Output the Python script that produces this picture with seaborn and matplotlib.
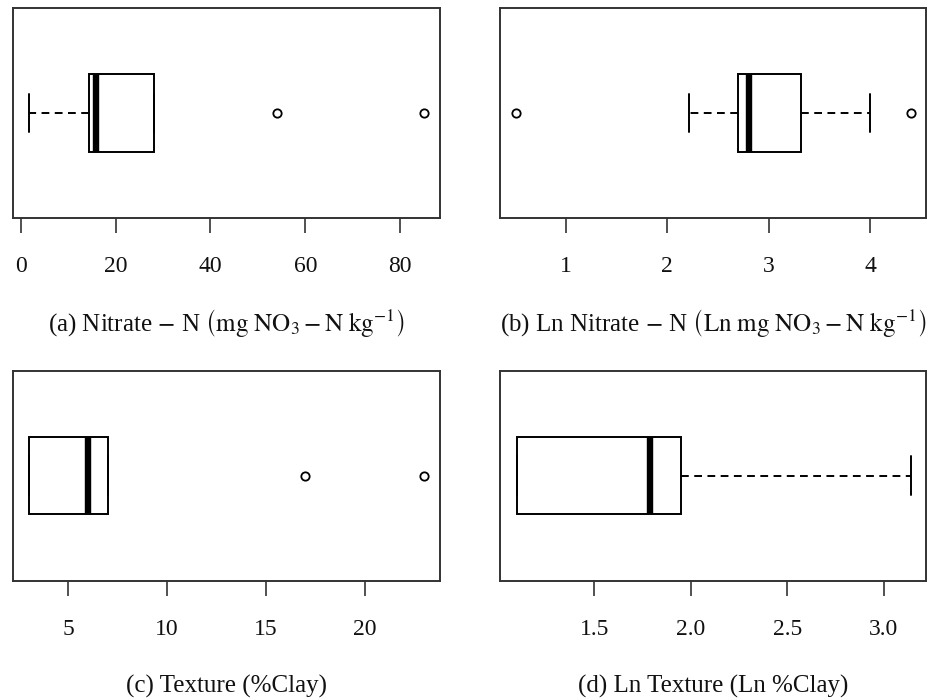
import matplotlib
matplotlib.use("Agg")
import matplotlib.pyplot as plt
import seaborn as sns

# ---- data ----
nitrate = [1.7, 9.1, 14.3, 15.8, 15.8, 28.0, 28.0, 54.0, 85.0]
ln_nitrate = [0.51, 2.21, 2.70, 2.80, 2.80, 3.32, 3.32, 4.00, 4.40]
clay = [3, 3, 3, 6, 6, 7, 7, 17, 23]
ln_clay = [1.10, 1.10, 1.10, 1.79, 1.79, 1.95, 1.95, 2.83, 3.14]

ticks_a = [0, 20, 40, 60, 80]
ticks_b = [1, 2, 3, 4]
ticks_c = [5, 10, 15, 20]
ticks_d = [1.5, 2.0, 2.5, 3.0]
ticklabels_d = ["1.5", "2.0", "2.5", "3.0"]

label_a = r"(a) Nitrate $-$ N $\left(\mathrm{mg\ NO_3 - N\ kg^{-1}}\right)$"
label_b = r"(b) Ln Nitrate $-$ N $\left(\mathrm{Ln\ mg\ NO_3 - N\ kg^{-1}}\right)$"
label_c = "(c) Texture (%Clay)"
label_d = "(d) Ln Texture (Ln %Clay)"

sns.set_style("white")
plt.rcParams["font.family"] = ["Liberation Serif", "DejaVu Serif"]
plt.rcParams["mathtext.fontset"] = "stix"

W, H = 931, 700
fig = plt.figure(figsize=(W / 100, H / 100), dpi=100)

def px_axes(left, top, right, bottom):
    return fig.add_axes([left / W, 1 - bottom / H, (right - left) / W, (bottom - top) / H])

panels = [
    (px_axes(12.7, 8, 440, 218), nitrate, (-1.7, 88.4), ticks_a, [str(t) for t in ticks_a], label_a),
    (px_axes(500, 8, 926, 218), ln_nitrate, (0.35, 4.55), ticks_b, [str(t) for t in ticks_b], label_b),
    (px_axes(12.7, 370.5, 440, 580.5), clay, (2.2, 23.8), ticks_c, [str(t) for t in ticks_c], label_c),
    (px_axes(500, 370.5, 926, 580.5), ln_clay, (1.01, 3.22), ticks_d, ticklabels_d, label_d),
]

for ax, vals, xlim, ticks, tlabels, lab in panels:
    sns.boxplot(
        x=vals, ax=ax, orient="h", width=0.8, color="white", linecolor="black",
        linewidth=1.4, whis=1.5, fliersize=6,
        whiskerprops={"linestyle": (0, (4.0, 2.8)), "linewidth": 1.4},
        capprops={"linewidth": 1.4},
        medianprops={"linewidth": 4.6},
        flierprops={"marker": "o", "markerfacecolor": "white",
                    "markeredgecolor": "black", "markeredgewidth": 1.3},
    )
    ax.set_xlim(*xlim)
    ax.set_ylim(1.077, -1.077)
    ax.set_yticks([])
    ax.set_xticks(ticks)
    ax.set_xticklabels(tlabels)
    ax.tick_params(axis="x", direction="out", length=11, width=1.1, pad=16.5,
                   labelsize=17, bottom=True, color="#222222", labelcolor="#111111")
    for sp in ax.spines.values():
        sp.set_visible(True)
        sp.set_color("#333333")
        sp.set_linewidth(1.4)
    ax.set_xlabel(lab, fontsize=18, color="#111111")
    ax.xaxis.set_label_coords(0.5, -0.505)
    ax.xaxis.label.set_va("center")
    ax.set_ylabel("")

fig.savefig("out.png", dpi=100)
